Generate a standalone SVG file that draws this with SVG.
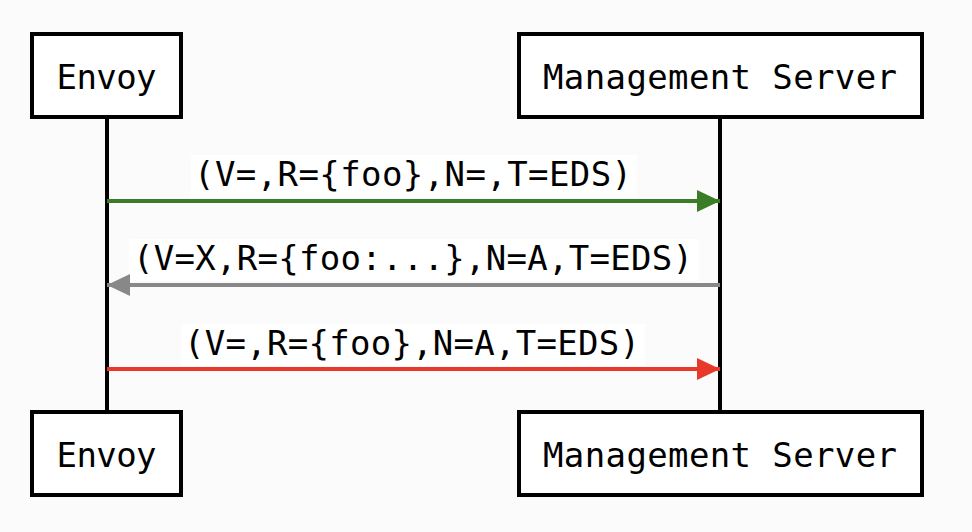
<svg xmlns="http://www.w3.org/2000/svg" width="972" height="532" viewBox="0 0 972 532">
<style>
.box{fill:#ffffff;stroke:#000000;stroke-width:4}
.life{stroke:#000000;stroke-width:4}
.t{font-family:"DejaVu Sans Mono","Liberation Mono",monospace;font-size:34px;fill:#000000;text-anchor:middle}
.lbl{font-family:"DejaVu Sans Mono","Liberation Mono",monospace;font-size:34px;fill:#000000;text-anchor:middle}
.lbg{fill:#ffffff}
</style>
<defs>
<marker id="hg" markerUnits="userSpaceOnUse" markerWidth="24" markerHeight="24" refX="23" refY="11" orient="auto"><path d="M0,0 L23,11 L0,22 Z" fill="#3a7d26"/></marker>
<marker id="hy" markerUnits="userSpaceOnUse" markerWidth="24" markerHeight="24" refX="23" refY="11" orient="auto"><path d="M0,0 L23,11 L0,22 Z" fill="#888888"/></marker>
<marker id="hr" markerUnits="userSpaceOnUse" markerWidth="24" markerHeight="24" refX="23" refY="11" orient="auto"><path d="M0,0 L23,11 L0,22 Z" fill="#e8382a"/></marker>
</defs>
<rect x="0" y="0" width="972" height="532" fill="#fbfbfb"/>
<g id="lifelines">
<line class="life" x1="107" y1="117" x2="107" y2="412"/>
<line class="life" x1="720" y1="117" x2="720" y2="412"/>
</g>
<g id="envoy-top"><rect class="box" x="32" y="34" width="149" height="83"/><text class="t" x="106.5" y="89" textLength="100">Envoy</text></g>
<g id="server-top"><rect class="box" x="519" y="34" width="403" height="83"/><text class="t" x="720" y="89" textLength="354">Management Server</text></g>
<g id="envoy-bottom"><rect class="box" x="32" y="412" width="149" height="83"/><text class="t" x="106.5" y="467" textLength="100">Envoy</text></g>
<g id="server-bottom"><rect class="box" x="519" y="412" width="403" height="83"/><text class="t" x="720" y="467" textLength="354">Management Server</text></g>
<g id="connectors">
<rect class="lbg" x="191" y="155" width="446" height="42"/>
<text class="lbl" x="413" y="186" textLength="438">(V=,R={foo},N=,T=EDS)</text>
<line x1="107" y1="201" x2="720" y2="201" stroke="#3a7d26" stroke-width="4" marker-end="url(#hg)"/>
<rect class="lbg" x="129" y="239" width="570" height="42"/>
<text class="lbl" x="413" y="270" textLength="560">(V=X,R={foo:...},N=A,T=EDS)</text>
<line x1="720" y1="285" x2="107" y2="285" stroke="#888888" stroke-width="4" marker-end="url(#hy)"/>
<rect class="lbg" x="181" y="324" width="464" height="42"/>
<text class="lbl" x="412" y="355" textLength="456">(V=,R={foo},N=A,T=EDS)</text>
<line x1="107" y1="369" x2="720" y2="369" stroke="#e8382a" stroke-width="4" marker-end="url(#hr)"/>
</g>
</svg>
